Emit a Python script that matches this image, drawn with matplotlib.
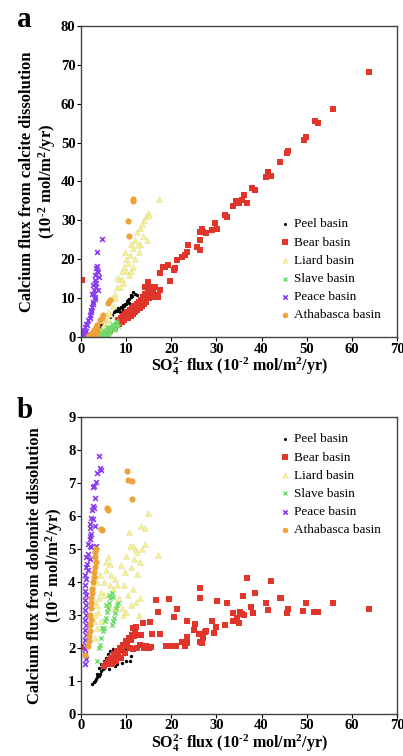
import numpy as np
import matplotlib
matplotlib.use("Agg")
from matplotlib import pyplot as plt

plt.rcParams['font.family'] = ['Liberation Serif', 'DejaVu Serif']
plt.rcParams['mathtext.fontset'] = 'custom'
plt.rcParams['mathtext.rm'] = 'Liberation Serif:bold'
plt.rcParams['mathtext.bf'] = 'Liberation Serif:bold'
plt.rcParams['mathtext.default'] = 'bf'

# ---- panel a: calcite ----
peel_a_x = [3, 3.5, 4, 4.5, 5, 5.5, 6, 6.4, 6.8, 7.2, 7.5, 7.8, 8.0, 8.3, 8.5, 8.8, 9.0, 9.3, 9.5, 9.8,
            10.0, 10.2, 10.4, 10.7, 11.0, 11.1, 11.3, 11.6, 12.0, 12.3, 14.6, 14.9, 9.2, 8.6, 10.6]
peel_a_y = [1.5, 2, 2.5, 3, 3.5, 4, 4.6, 5.2, 5.8, 6.4, 6.6, 7.0, 6.8, 7.4, 7.2, 7.8, 7.6, 8.2, 8.0, 8.6,
            8.4, 9.2, 9.5, 9.8, 10.2, 10.8, 10.5, 11.7, 11.2, 10.8, 14.0, 14.5, 7.0, 6.5, 8.8]

bear_a_x = [0.2, 63.7, 55.9, 51.8, 52.6, 49.3, 49.8, 45.6, 45.9, 44.1, 41.0, 41.5, 42.2, 37.8, 38.5,
            36.1, 35.6, 34.9, 34.3, 33.7, 36.7, 35.1, 31.9, 32.4, 29.7, 30.1, 29.0, 27.8, 27.1, 26.4,
            26.7, 26.4, 26.4, 25.6, 23.8, 23.4, 23.0, 22.3, 21.2, 20.8, 20.5, 19.3, 18.6, 17.5, 19.8,
            18.2, 16.0, 17.1, 17.5, 15.3, 16.4, 14.9, 14.2,
            6.5, 7.0, 7.5, 8.0, 8.2, 8.5, 8.8, 9.0, 9.3, 9.5, 9.8, 10.0, 10.3, 10.5, 10.8, 11.0, 11.2,
            11.5, 11.8, 12.0, 12.3, 12.5, 12.8, 13.0, 13.2, 13.5, 13.8, 14.0, 14.2, 14.5, 14.8, 15.0,
            15.3, 15.5, 15.8, 16.0, 16.7, 17.1, 16.0, 14.5, 14.8]
bear_a_y = [14.8, 68.2, 58.7, 55.4, 55.1, 50.7, 51.5, 47.2, 47.9, 45.1, 41.1, 42.5, 41.5, 38.4, 37.8,
            36.4, 35.2, 34.8, 35.1, 33.8, 34.4, 34.4, 31.4, 30.8, 29.2, 27.8, 27.5, 26.8, 27.1, 26.9,
            27.7, 25.0, 22.4, 23.2, 23.7, 21.9, 21.1, 20.7, 19.8, 17.7, 17.2, 18.5, 17.9, 16.4, 14.5,
            17.9, 10.8, 10.8, 12.1, 12.1, 12.8, 13.4, 12.9,
            1.5, 2.0, 2.5, 3.0, 4.5, 3.5, 5.0, 4.0, 5.5, 4.5, 6.0, 5.0, 6.5, 4.8, 7.0, 5.5, 7.5,
            6.0, 8.0, 6.5, 8.5, 7.0, 9.0, 7.5, 9.5, 8.0, 10.2, 8.5, 11.0, 9.0, 12.0, 10.0,
            13.0, 11.0, 12.0, 10.4, 10.4, 10.4, 12.1, 11.2, 14.2]

liard_a_x = [4.5, 5.5, 6, 6.5, 7, 7.5, 6.8, 8, 8.5, 9, 9.5, 10, 10.5, 9.8, 10.8, 11, 11.5, 12, 12.5, 13,
             13.5, 14, 14.5, 14.8, 15, 14.6, 13.8, 12.8, 11.6, 10.6, 9.4, 8.6, 7.6, 17.2, 12, 13, 11,
             10, 9, 6, 5.2, 8.0, 12.6]
liard_a_y = [2, 4, 5, 6, 8, 11, 10, 13, 15, 17, 18, 20, 19, 22, 21, 24, 23, 25, 27, 28,
             29, 30, 31, 32, 31.5, 25, 26, 22, 18, 16, 14, 13, 10, 35.6, 20, 24, 17,
             17, 15, 6.5, 3.5, 15.1, 23.7]

slave_a_x = [0.1, 0.2, 0.5, 1.0, 2, 3, 3.5, 4, 4.5, 5, 5.5, 6, 6.5, 7, 7.5, 8, 5.2, 6.2, 7.2, 4.8,
             5.8, 6.8, 7.8, 3.8, 4.2, 6.5, 7.5, 8.2, 5, 6]
slave_a_y = [1.8, 1.2, 0.5, 0.3, 0.2, 0.3, 0.6, 0.8, 1.0, 1.3, 1.6, 2.0, 2.4, 2.8, 3.2, 3.6, 0.8, 1.2, 1.8, 1.8,
             2.6, 3.4, 4.2, 1.2, 0.4, 1.6, 2.2, 2.8, 0.3, 0.6]

peace_a_x = [4.65, 3.6, 3.4, 3.8, 3.2, 3.9, 3.0, 2.7, 3.4, 2.9, 3.8, 2.4, 3.0, 2.7, 2.4, 2.3, 1.9, 1.6,
             1.2, 0.8, 0.4, 0.1, 3.5, 3.3, 2.8, 3.1, 2.6, 2.2, 2.0, 1.4, 1.0, 0.6, 3.6, 3.2]
peace_a_y = [25.1, 21.9, 17.7, 16.8, 15.9, 15.4, 14.7, 13.4, 12.9, 12.1, 12.1, 11.2, 10.4, 9.1, 7.8, 6.5,
             5.7, 4.4, 3.5, 2.6, 1.8, 0.9, 18.2, 13.8, 11.0, 9.8, 8.4, 7.0, 5.0, 3.0, 1.5, 0.5, 17.0, 14.0]

atha_a_x = [11.5, 11.5, 10.4, 10.6, 6.4, 6.0, 4.95, 4.6, 4.1, 3.5, 3.3, 3.0, 2.8, 3.2, 2.5, 2.2, 2.0,
            1.7, 2.6, 3.0, 3.4, 2.4, 1.5, 3.6]
atha_a_y = [35.6, 34.9, 29.9, 25.9, 9.6, 8.7, 5.7, 4.9, 4.4, 3.0, 2.5, 2.2, 1.8, 1.4, 1.2, 0.8, 0.5,
            0.2, 0.3, 0.6, 1.0, 0.1, 0.0, 1.8]

# ---- panel b: dolomite ----
peel_b_x = [2.5, 2.8, 3.0, 3.3, 3.6, 3.9, 4.2, 4.5, 4.8, 5.0, 5.3, 5.6, 6.0, 6.4, 6.8, 7.2, 7.6, 8.0,
            8.5, 9.0, 9.5, 10.0, 4.0, 4.5, 5.0, 5.5, 6.0, 6.5, 7.0, 8.0, 9.0, 10.0, 10.8, 11.0, 14.5,
            14.8, 3.5, 6.3, 7.5]
peel_b_y = [0.9, 0.95, 1.0, 1.05, 1.1, 1.15, 1.2, 1.3, 1.35, 1.4, 1.45, 1.5, 1.55, 1.6, 1.65, 1.7, 1.75,
            1.8, 1.85, 1.9, 1.95, 2.0, 1.4, 1.5, 1.6, 1.7, 1.8, 1.9, 1.95, 1.5, 1.55, 1.6, 1.6, 1.75,
            2.05, 1.95, 1.2, 1.35, 1.45]

bear_b_x = [0.0, 16.6, 17.1, 19.6, 21.3, 20.5, 15.3, 13.7, 12.2, 12.0, 15.7, 17.5, 13.1, 36.7, 42.1,
            26.4, 26.4, 38.6, 36.0, 44.1, 44.4, 30.2, 32.3, 40.9, 49.8, 55.9, 63.7, 23.4, 25.3, 25.0,
            29.0, 29.9, 31.8, 27.8, 27.5, 29.5, 27.1, 26.2, 26.4, 26.7, 23.4, 23.4, 23.0, 22.3, 21.0,
            20.1, 37.7, 38.2, 41.5, 45.8, 45.6, 49.1, 51.7, 52.4, 33.6, 35.2, 35.6, 36.1, 34.5, 33.7,
            34.9, 18.8, 19.3, 14.5, 14.0, 15.0, 15.6, 12.5, 11.5, 13.0,
            5.0, 5.5, 6.0, 6.3, 6.6, 7.0, 7.3, 7.6, 8.0, 8.3, 8.6, 9.0, 9.3, 9.6, 10.0, 10.3, 10.6,
            11.0, 11.4, 11.8, 7.8, 8.8, 9.8, 6.8, 10.8, 11.6, 12.2, 13.2]
bear_b_y = [2.01, 3.44, 3.09, 3.47, 3.19, 2.94, 2.79, 2.74, 2.64, 2.54, 2.41, 2.41, 2.39, 4.13, 4.02,
            3.82, 3.52, 3.67, 3.56, 3.52, 3.52, 3.43, 3.37, 3.36, 3.36, 3.36, 3.18, 2.82, 2.73, 2.54,
            2.81, 2.64, 2.68, 2.51, 2.47, 2.45, 2.29, 2.41, 2.17, 2.14, 2.32, 2.14, 2.07, 2.19, 2.07,
            2.04, 3.24, 3.07, 3.16, 3.17, 3.06, 3.11, 3.09, 3.09, 3.06, 3.09, 3.04, 2.99, 2.91, 2.81,
            2.74, 2.04, 2.04, 2.05, 2.0, 2.0, 2.02, 1.98, 1.95, 2.1,
            1.45, 1.5, 1.55, 1.6, 1.7, 1.65, 1.8, 1.75, 1.9, 1.85, 2.0, 1.95, 2.1, 2.05, 2.2, 2.15, 2.3,
            2.25, 2.4, 2.35, 1.6, 1.7, 1.85, 1.5, 2.0, 2.6, 2.4, 2.4]

liard_b_x = [14.8, 13.4, 14.1, 10.6, 10.8, 14.1, 17.1, 13.0, 10.0, 11.1, 12.3, 9.7, 6.0, 6.4, 5.6, 6.7,
             12.0, 12.5, 11.5, 13.5, 11.8, 9.5, 10.5, 11.5, 12.2, 13.0, 8.0, 7.5, 7.0, 5.0, 4.5, 4.0,
             3.5, 3.0, 3.2, 3.8, 4.5, 5.2, 6.2, 7.2, 8.5, 9.0, 2.8, 3.0, 3.5, 4.2, 5.5, 6.5, 8.8, 9.2,
             10.0, 11.0, 12.8, 2.6, 3.6]
liard_b_y = [6.08, 5.70, 5.65, 5.52, 5.08, 5.15, 4.82, 4.60, 4.80, 4.45, 4.25, 4.30, 4.75, 4.55, 4.35, 4.20,
             5.0, 4.9, 5.1, 5.0, 4.7, 3.9, 3.6, 3.8, 3.4, 3.5, 3.9, 4.1, 3.8, 4.0, 3.7, 3.5,
             3.3, 3.4, 3.0, 3.1, 2.8, 3.6, 3.3, 3.2, 3.5, 3.2, 2.8, 2.3, 2.6, 4.2, 4.6, 3.9, 4.5, 3.0,
             3.1, 3.3, 3.0, 3.9, 4.0]

slave_b_x = [3.5, 4.0, 4.2, 4.5, 4.8, 5.0, 5.3, 5.5, 5.8, 6.0, 6.3, 6.5, 6.8, 7.1, 7.2, 7.5, 7.8, 8.0,
             8.3, 6.8, 7.0, 4.6, 5.6, 6.2]
slave_b_y = [1.59, 2.0, 2.1, 2.3, 2.5, 2.6, 2.8, 2.9, 3.1, 3.2, 3.35, 3.5, 3.65, 3.55, 2.9, 3.05, 3.2, 3.3,
             3.35, 2.7, 2.8, 2.6, 3.3, 3.6]

peace_b_x = [3.9, 4.1, 4.5, 3.6, 3.4, 2.9, 2.7, 3.0, 2.7, 2.4, 2.9, 2.3, 2.7, 1.9, 2.1, 3.0, 2.3, 1.9, 2.1,
             1.6, 1.9, 2.3, 3.4, 1.55, 1.2, 1.9, 1.4, 1.2, 1.55, 0.95, 1.2, 0.8, 0.95, 1.0, 0.9, 1.1,
             0.9, 1.0, 0.8, 1.1, 0.9, 1.0, 0.8, 1.0, 0.9, 0.8, 1.0, 0.9]
peace_b_y = [7.83, 7.46, 7.39, 7.31, 7.03, 6.91, 6.88, 6.56, 6.30, 6.20, 6.26, 5.95, 5.90, 5.75, 5.65, 5.70,
             5.45, 5.40, 5.30, 5.15, 5.08, 5.05, 5.08, 4.85, 4.75, 4.70, 4.55, 4.45, 4.35, 4.20, 4.10, 3.90,
             3.74, 3.6, 3.45, 3.3, 3.15, 3.0, 2.85, 2.7, 2.55, 2.4, 2.25, 2.1, 1.95, 1.8, 1.65, 1.5]

atha_b_x = [10.3, 10.4, 11.3, 11.3, 5.8, 5.9, 4.4, 4.6, 3.1, 3.2, 3.3, 3.1, 2.9, 2.8, 2.6, 2.5, 2.4,
            2.3, 2.3, 2.2, 2.1, 2.2, 2.0, 1.9, 1.8, 1.7, 1.6, 0.9, 3.3]
atha_b_y = [7.36, 7.09, 7.06, 6.51, 6.26, 6.20, 5.60, 5.58, 4.9, 4.75, 4.6, 4.45, 4.3, 4.15, 4.0, 3.8,
            3.65, 3.5, 3.35, 3.2, 3.0, 2.85, 2.7, 2.5, 2.35, 2.2, 2.05, 1.79, 5.0]

labels = ["Peel basin", "Bear basin", "Liard basin", "Slave basin", "Peace basin", "Athabasca basin"]
styles = [
    dict(marker='o', s=6, color='black', linewidths=0),
    dict(marker='s', s=18, color='#e0352b', linewidths=0),
    dict(marker='^', s=18, facecolor='#f8f28e', edgecolor='#d8d3a0', linewidths=0.3),
    dict(marker='x', s=10, color='#6fdc6a', linewidths=1.0),
    dict(marker='x', s=12, color='#8a3cf0', linewidths=1.2),
    dict(marker='o', s=20, color='#eea33a', linewidths=0),
]

data_a = [(peel_a_x, peel_a_y), (bear_a_x, bear_a_y), (liard_a_x, liard_a_y),
          (slave_a_x, slave_a_y), (peace_a_x, peace_a_y), (atha_a_x, atha_a_y)]
data_b = [(peel_b_x, peel_b_y), (bear_b_x, bear_b_y), (liard_b_x, liard_b_y),
          (slave_b_x, slave_b_y), (peace_b_x, peace_b_y), (atha_b_x, atha_b_y)]

fig = plt.figure(figsize=(4.03, 7.56), dpi=100)
ax1 = fig.add_axes([0.201, 0.554, 0.784, 0.412])
ax2 = fig.add_axes([0.201, 0.056, 0.784, 0.392])

unit = r"(10$^{\text{-}2}$ mol/m$^2$/yr)"
xlab = r"SO$_4^{2\text{-}}$ flux " + unit

for ax, data, ymax, ylab, loc in [
        (ax1, data_a, 80, "Calcium flux from calcite dissolution", "lower right"),
        (ax2, data_b, 9, "Calcium flux from dolomite dissolution", "upper right")]:
    for (x, y), st, lab in zip(data, styles, labels):
        ax.scatter(x, y, label=lab, **st)
    ax.set_xlim(0, 70)
    ax.set_ylim(0, ymax)
    ax.set_xticks(np.arange(0, 71, 10))
    ax.set_yticks(np.arange(0, ymax + 1, 10 if ymax == 80 else 1))
    ax.tick_params(direction='out', length=3, width=0.8, labelsize=10.5, pad=1)
    for t in ax.get_xticklabels() + ax.get_yticklabels():
        t.set_fontweight('bold')
    for sp in ax.spines.values():
        sp.set_color('#444444')
        sp.set_linewidth(1.0)
    ax.set_xlabel(xlab, fontsize=11.5, fontweight='bold', labelpad=0)
    ax.set_ylabel(ylab + "\n" + unit, fontsize=12, fontweight='bold',
                  linespacing=1.05, labelpad=2)
    ax.legend(loc=loc, frameon=False, fontsize=9.5, handletextpad=0.1, labelspacing=0.45,
              borderaxespad=0.8, markerscale=0.9, handlelength=1.2)

fig.text(0.042, 0.964, "a", fontsize=21, fontweight='bold', va='baseline')
fig.text(0.042, 0.447, "b", fontsize=21, fontweight='bold', va='baseline')

fig.savefig("out.png", dpi=100)
